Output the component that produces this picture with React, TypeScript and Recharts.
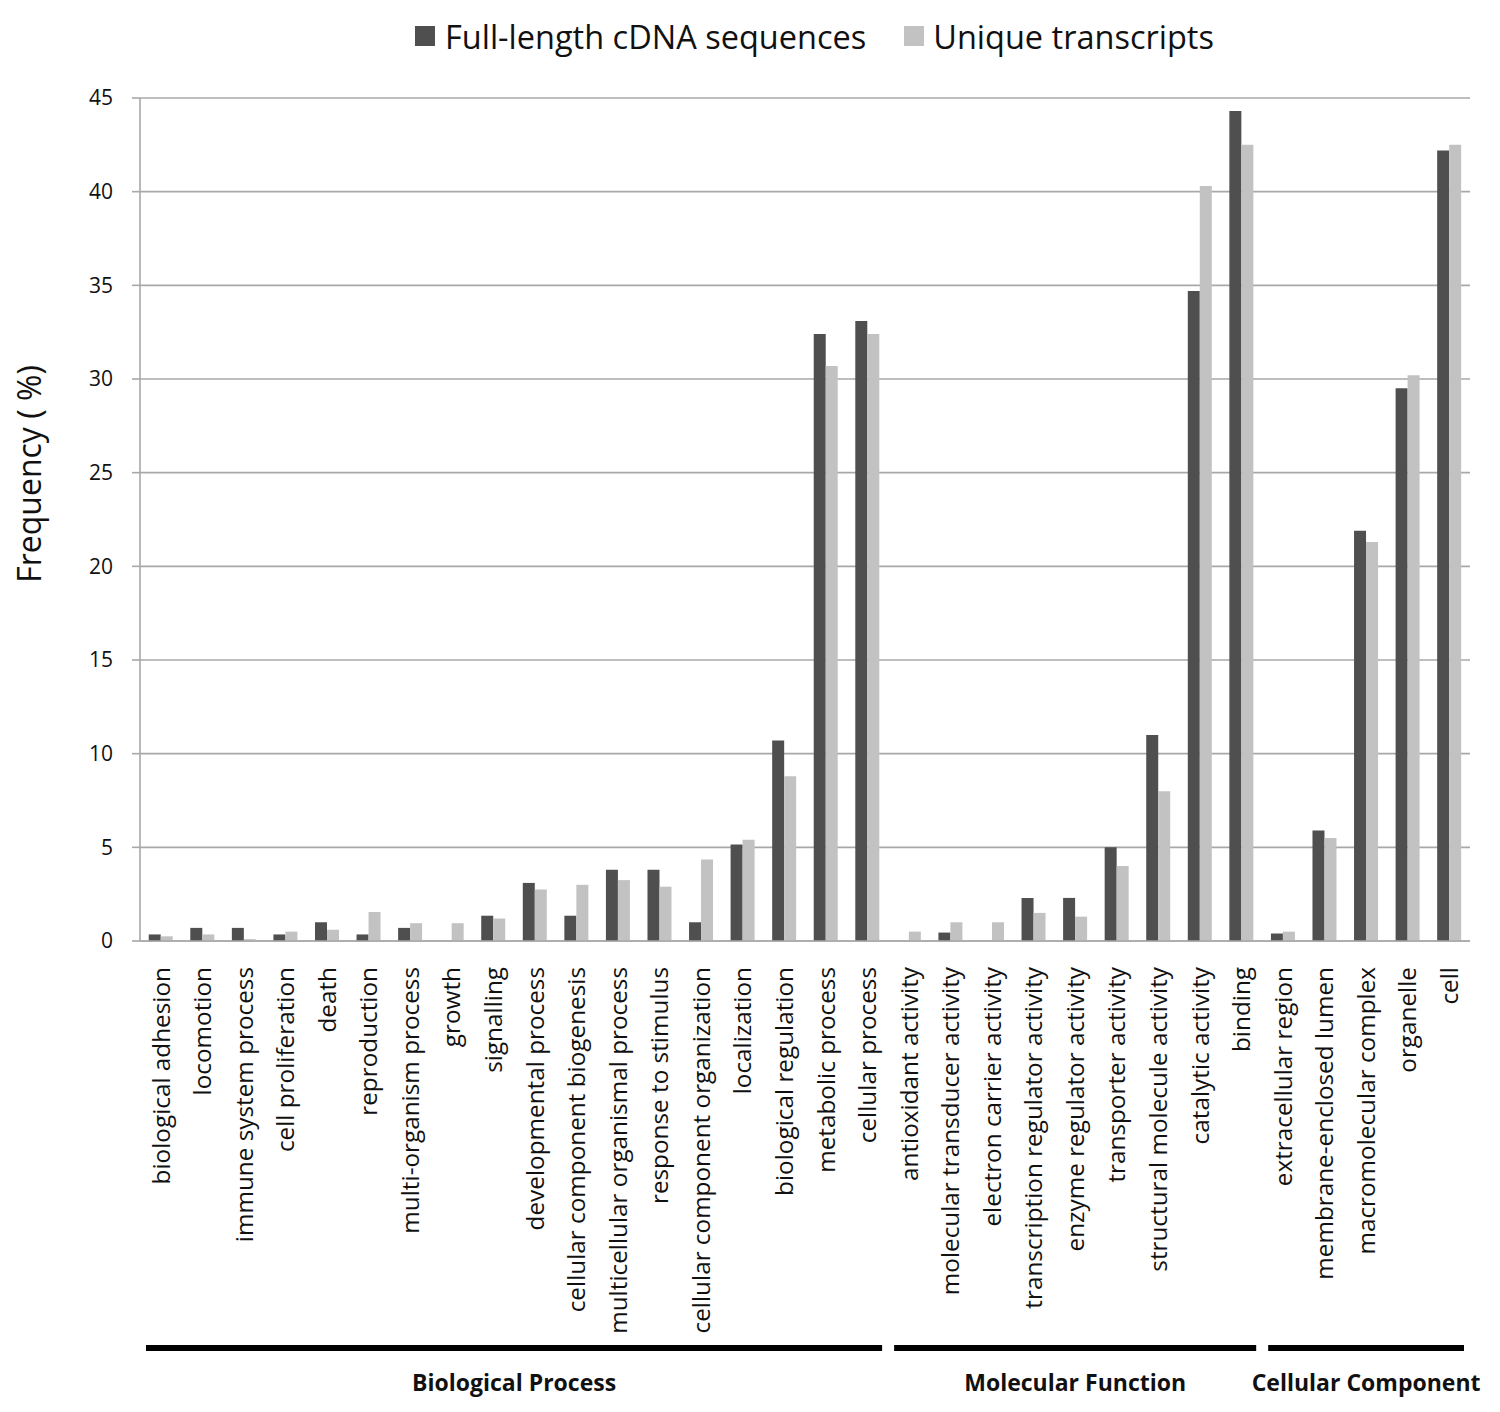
import React from "react";
import { ComposedChart, Bar, XAxis, YAxis, CartesianGrid } from "recharts";

const categories = [
  "biological adhesion", "locomotion", "immune system process", "cell proliferation", "death",
  "reproduction", "multi-organism process", "growth", "signalling", "developmental process",
  "cellular component biogenesis", "multicellular organismal process", "response to stimulus",
  "cellular component organization", "localization", "biological regulation", "metabolic process",
  "cellular process", "antioxidant activity", "molecular transducer activity", "electron carrier activity",
  "transcription regulator activity", "enzyme regulator activity", "transporter activity",
  "structural molecule activity", "catalytic activity", "binding", "extracellular region",
  "membrane-enclosed lumen", "macromolecular complex", "organelle", "cell",
];

const fullLength = [
  0.35, 0.7, 0.7, 0.35, 1.0, 0.35, 0.7, 0, 1.35, 3.1, 1.35, 3.8, 3.8, 1.0, 5.15, 10.7, 32.4, 33.1,
  0, 0.45, 0, 2.3, 2.3, 5.0, 11.0, 34.7, 44.3,
  0.4, 5.9, 21.9, 29.5, 42.2,
];

const unique = [
  0.25, 0.35, 0.1, 0.5, 0.6, 1.55, 0.95, 0.95, 1.2, 2.75, 3.0, 3.25, 2.9, 4.35, 5.4, 8.8, 30.7, 32.4,
  0.5, 1.0, 1.0, 1.5, 1.3, 4.0, 8.0, 40.3, 42.5,
  0.5, 5.5, 21.3, 30.2, 42.5,
];

const yTicks = [0, 5, 10, 15, 20, 25, 30, 35, 40, 45];

const seriesNames = ["Full-length cDNA sequences", "Unique transcripts"];

const groups = [
  { label: "Biological Process", start: 0, end: 18 },
  { label: "Molecular Function", start: 18, end: 27 },
  { label: "Cellular Component", start: 27, end: 32 },
];

const data = categories.map((name, i) => ({ name, full: fullLength[i], uniq: unique[i] }));
const boundaryTicks = Array.from({ length: categories.length + 1 }, (_, i) => i);

const FONT = "'Open Sans', sans-serif";
const W = 1500;
const H = 1412;
const PLOT_LEFT = 140;
const PLOT_RIGHT = 1470;
const PLOT_TOP = 98;
const PLOT_BOTTOM = 941;
const DARK = "#4f4f4f";
const LIGHT = "#c2c2c2";
const GRID = "#a8a8a8";

const XTick = (props: any) => {
  const { x, y, payload } = props;
  const ty = y + 24;
  return (
    <text
      x={x}
      y={ty}
      transform={`rotate(-90, ${x}, ${ty})`}
      textAnchor="end"
      dy="0.36em"
      fontSize={24.3}
      fontFamily={FONT}
      fill="#111"
    >
      {payload.value}
    </text>
  );
};

const YLabel = (props: any) => {
  const { viewBox } = props;
  const cx = viewBox.x + 29;
  const cy = 474;
  return (
    <text
      x={cx}
      y={cy}
      transform={`rotate(-90, ${cx}, ${cy})`}
      textAnchor="middle"
      dy="0.36em"
      fontSize={32}
      fontFamily={FONT}
      fill="#111"
    >
      Frequency ( %)
    </text>
  );
};

export default function App() {
  const band = (PLOT_RIGHT - PLOT_LEFT) / categories.length;
  return (
    <div style={{ position: "absolute", left: 0, top: 0, width: W, height: H, background: "#fff" }}>
      <ComposedChart
        width={W}
        height={H}
        data={data}
        margin={{ top: PLOT_TOP, right: W - PLOT_RIGHT, left: 0, bottom: 0 }}
        barCategoryGap="21%"
        barGap={0}
      >
        <CartesianGrid vertical={false} stroke={GRID} strokeWidth={1.6} />
        <XAxis
          xAxisId="b"
          type="number"
          domain={[0, categories.length]}
          ticks={boundaryTicks}
          tick={false}
          tickSize={9}
          tickLine={{ stroke: GRID, strokeWidth: 1.6 }}
          axisLine={false}
          height={0}
          allowDataOverflow
        />
        <XAxis
          xAxisId="c"
          dataKey="name"
          interval={0}
          tick={<XTick />}
          tickLine={false}
          tickSize={0}
          axisLine={{ stroke: GRID, strokeWidth: 1.6 }}
          height={H - PLOT_BOTTOM}
        />
        <YAxis
          domain={[0, 45]}
          ticks={yTicks}
          width={PLOT_LEFT}
          tickSize={8}
          tickMargin={19}
          tickLine={{ stroke: GRID, strokeWidth: 1.6 }}
          axisLine={{ stroke: GRID, strokeWidth: 1.6 }}
          tick={{ fontSize: 21, fontFamily: FONT, fill: "#111" }}
          label={<YLabel />}
        />
        <Bar xAxisId="c" dataKey="full" name={seriesNames[0]} fill={DARK} isAnimationActive={false} />
        <Bar xAxisId="c" dataKey="uniq" name={seriesNames[1]} fill={LIGHT} isAnimationActive={false} />
      </ComposedChart>
      <div
        style={{
          position: "absolute",
          left: 415,
          top: 13,
          height: 46,
          display: "flex",
          alignItems: "center",
          fontFamily: FONT,
          fontSize: 32.5,
          color: "#111",
          whiteSpace: "nowrap",
        }}
      >
        <span style={{ display: "inline-block", width: 20, height: 20, background: DARK, marginRight: 10 }} />
        <span style={{ marginRight: 38 }}>{seriesNames[0]}</span>
        <span style={{ display: "inline-block", width: 20, height: 20, background: LIGHT, marginRight: 9 }} />
        <span>{seriesNames[1]}</span>
      </div>
      <svg width={W} height={H} style={{ position: "absolute", left: 0, top: 0, pointerEvents: "none" }}>
        {groups.map((g) => {
          const x1 = PLOT_LEFT + g.start * band + 6;
          const x2 = PLOT_LEFT + g.end * band - 6;
          return (
            <g key={g.label}>
              <line x1={x1} x2={x2} y1={1348} y2={1348} stroke="#000" strokeWidth={6} />
              <text
                x={(x1 + x2) / 2}
                y={1391}
                textAnchor="middle"
                fontSize={23}
                fontWeight="bold"
                fontFamily={FONT}
                fill="#111"
              >
                {g.label}
              </text>
            </g>
          );
        })}
      </svg>
    </div>
  );
}
